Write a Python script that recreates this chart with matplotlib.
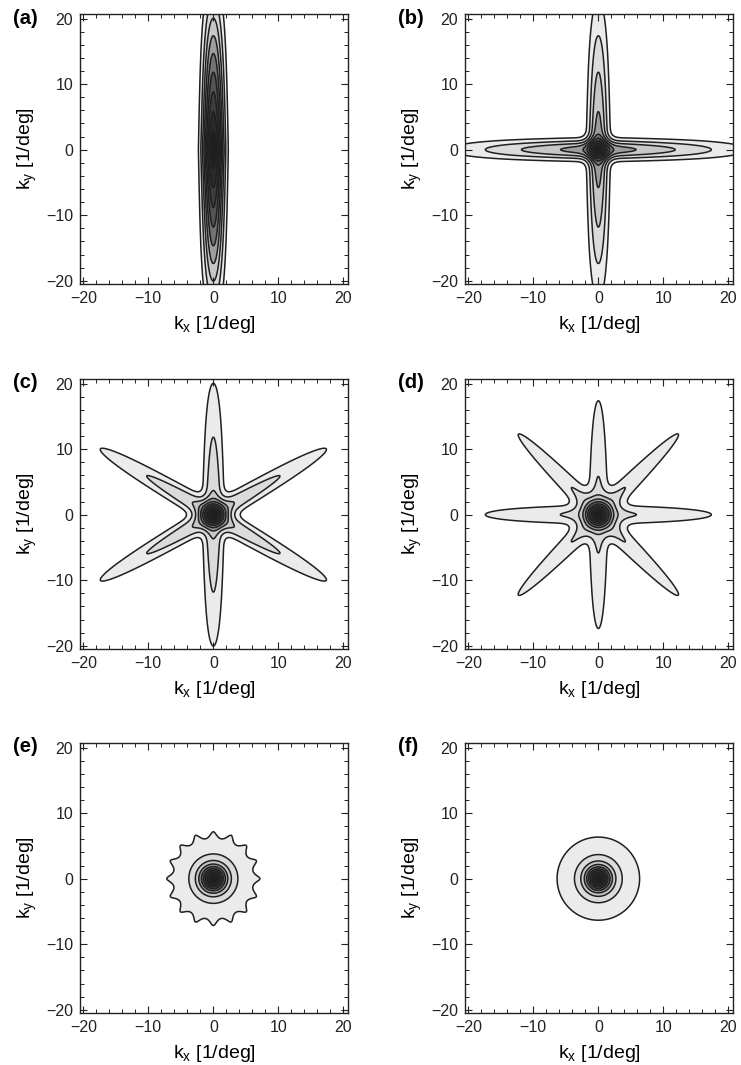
import numpy as np
import matplotlib
matplotlib.use("Agg")
import matplotlib.pyplot as plt
from matplotlib.ticker import MultipleLocator

plt.rcParams['font.family'] = ['Liberation Sans', 'DejaVu Sans']
plt.rcParams['mathtext.fontset'] = 'custom'
plt.rcParams['mathtext.rm'] = 'Liberation Sans'

# ---- data / model parameters (one entry per panel) ----
panel_labels = ['(a)', '(b)', '(c)', '(d)', '(e)', '(f)']
n_orientations = [1, 2, 3, 4, 8, 90]            # number of oriented filters summed
first_orientation_deg = [90, 0, 90, 0, 0, 0]    # orientation of the first filter
inv_decay_len = [0.04, 0.04, 0.04, 0.04, 0.04, 0.04]  # exponential fall-off along filter
quartic_len = [25, 25, 25, 25, 25, 25]          # length of the quartic fall-off term
sigma_short = [1.07, 1.05, 1.1, 1.1, 1.03, 1.0] # width across the filter

contour_levels = [0.1, 0.2, 0.3, 0.4, 0.5, 0.6, 0.7, 0.8, 0.9, 1.01]
band_grays = [0.92, 0.86, 0.78, 0.62, 0.45, 0.33, 0.24, 0.17, 0.12]

tick_values = [-20, -10, 0, 10, 20]
axis_range = [-20.5, 20.7]
xlabel_text = r'k$_\mathregular{x}$ [1/deg]'
ylabel_text = r'k$_\mathregular{y}$ [1/deg]'

W, H = 741, 1065
fig = plt.figure(figsize=(W / 100, H / 100), dpi=100)

col_left = [80, 465]
row_top = [14, 379, 743]
ax_w, ax_h = 268, 270

grid = np.linspace(-21.5, 21.5, 861)
X, Y = np.meshgrid(grid, grid)


def field(n, th0, inv_lam, qlen, b):
    f = np.zeros_like(X)
    eps = 0.3
    for i in range(n):
        th = np.deg2rad(th0 + i * 180.0 / n)
        u = X * np.cos(th) + Y * np.sin(th)
        v = -X * np.sin(th) + Y * np.cos(th)
        f += np.exp(-(np.sqrt(u * u + eps * eps) - eps) * inv_lam
                    - (u / qlen) ** 4 - v * v / (2 * b * b))
    return f / n


colors = [str(g) for g in band_grays]

for k in range(6):
    r, c = divmod(k, 2)
    left = col_left[c]
    top = row_top[r]
    ax = fig.add_axes([left / W, 1 - (top + ax_h) / H, ax_w / W, ax_h / H])
    Z = field(n_orientations[k], first_orientation_deg[k], inv_decay_len[k],
              quartic_len[k], sigma_short[k])
    ax.contourf(X, Y, Z, levels=contour_levels, colors=colors)
    ax.contour(X, Y, Z, levels=contour_levels[:-1], colors='#202020',
               linewidths=1.1)
    ax.set_xlim(axis_range)
    ax.set_ylim(axis_range)
    ax.set_xticks(tick_values)
    ax.set_yticks(tick_values)
    ax.xaxis.set_minor_locator(MultipleLocator(2))
    ax.yaxis.set_minor_locator(MultipleLocator(2))
    ax.tick_params(which='both', direction='in', top=True, right=True,
                   labelsize=11.5, colors='#222222', pad=5)
    ax.tick_params(which='major', length=5, width=0.8)
    ax.tick_params(which='minor', length=3, width=0.7)
    for sp in ax.spines.values():
        sp.set_linewidth(1.0)
        sp.set_color('#222222')
    ax.set_xlabel(xlabel_text, fontsize=14, labelpad=6)
    ax.set_ylabel(ylabel_text, fontsize=14, labelpad=5)
    fig.text((left - 67) / W, 1 - (top + 4) / H, panel_labels[k],
             fontsize=14.5, fontweight='bold', ha='left', va='center')

fig.savefig('out.png', dpi=100)
